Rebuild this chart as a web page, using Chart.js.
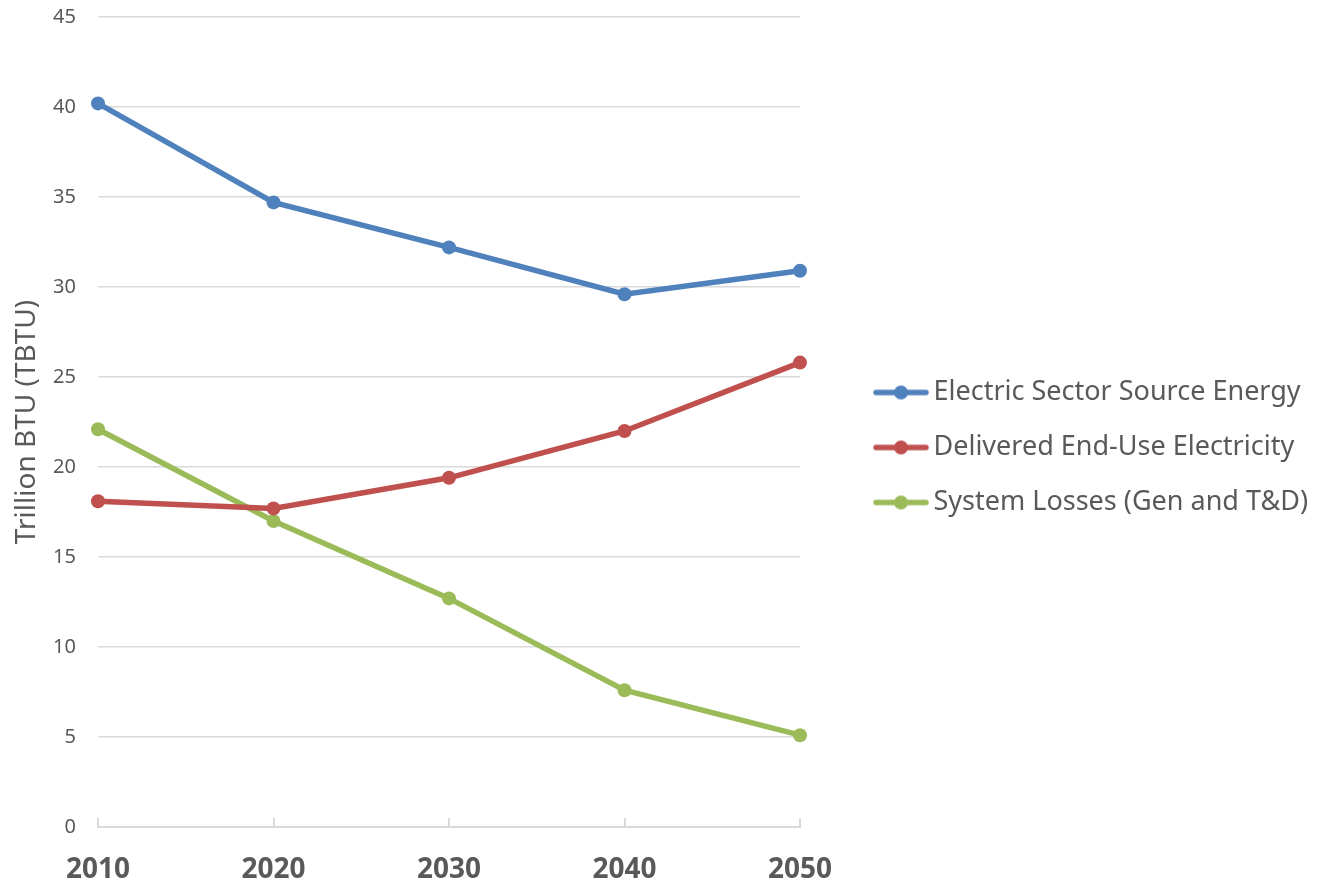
<!DOCTYPE html>
<html>
<head>
<meta charset="utf-8">
<script src="https://cdn.jsdelivr.net/npm/chart.js@4"></script>
<style>
  html, body { margin: 0; padding: 0; background: #fff; }
  #wrap { width: 1319px; height: 884px; }
</style>
</head>
<body>
<div id="wrap"><canvas id="energyChart" width="1319" height="884"></canvas></div>
<script>
const years = ['2010', '2020', '2030', '2040', '2050'];
const sourceEnergy = [40.2, 34.7, 32.2, 29.6, 30.9];
const deliveredElectricity = [18.1, 17.7, 19.4, 22.0, 25.8];
const systemLosses = [22.1, 17.0, 12.7, 7.6, 5.1];
const yTicks = [0, 5, 10, 15, 20, 25, 30, 35, 40, 45];

const BLUE = '#4F81BD';
const RED = '#C0504D';
const GREEN = '#9BBB59';
const TEXT = '#595959';
const FONT = '"Noto Sans", "Open Sans", sans-serif';
const LEGEND_PAD = 28;

// little line-with-dot swatch for the legend
function swatch(color) {
    const c = document.createElement('canvas');
    c.width = 56;
    c.height = 16;
    const g = c.getContext('2d');
    g.strokeStyle = color;
    g.lineWidth = 5.5;
    g.lineCap = 'round';
    g.beginPath();
    g.moveTo(3, 8);
    g.lineTo(53, 8);
    g.stroke();
    g.fillStyle = color;
    g.beginPath();
    g.arc(28, 8, 7, 0, Math.PI * 2);
    g.fill();
    return c;
}

function series(label, data, color) {
    return {
        label: label,
        data: data,
        borderColor: color,
        backgroundColor: color,
        borderWidth: 5.5,
        pointRadius: 7,
        pointBorderWidth: 0,
        pointBackgroundColor: color,
        tension: 0,
        legendSwatch: swatch(color)
    };
}

// the legend takes no room in the layout; park it to the right of the plot
const legendPlacer = {
    id: 'legendPlacer',
    afterLayout(chart) {
        const lg = chart.legend;
        const h = lg.bottom - lg.top;
        lg.left = 882 - LEGEND_PAD;
        lg.right = 1319;
        lg.top -= 3;
        lg.bottom = lg.top + h;
    }
};

const ctx = document.getElementById('energyChart').getContext('2d');
const chart = new Chart(ctx, {
    type: 'line',
    data: {
        labels: years,
        datasets: [
            series('Electric Sector Source Energy', sourceEnergy, BLUE),
            series('Delivered End-Use Electricity', deliveredElectricity, RED),
            series('System Losses (Gen and T&D)', systemLosses, GREEN)
        ]
    },
    options: {
        responsive: false,
        animation: false,
        layout: { padding: { top: 17, left: 0, right: 518, bottom: 0 } },
        plugins: {
            tooltip: { enabled: false },
            legend: {
                position: 'right',
                maxWidth: 1,
                labels: {
                    usePointStyle: true,
                    pointStyleWidth: 38,
                    padding: LEGEND_PAD,
                    color: TEXT,
                    font: { family: FONT, size: 27 },
                    generateLabels(ch) {
                        const items = Chart.defaults.plugins.legend.labels.generateLabels(ch);
                        items.forEach(it => {
                            it.pointStyle = ch.data.datasets[it.datasetIndex].legendSwatch;
                        });
                        return items;
                    }
                }
            }
        },
        scales: {
            x: {
                grid: {
                    display: true,
                    drawOnChartArea: false,
                    tickLength: -9,
                    color: '#d9d9d9',
                    lineWidth: 2
                },
                border: { display: true, color: '#d9d9d9', width: 2 },
                ticks: {
                    color: TEXT,
                    padding: 35,
                    maxRotation: 0,
                    font: { family: FONT, size: 28, weight: 'bold' }
                },
                afterFit(scale) { scale.height = 57; }
            },
            y: {
                min: 0,
                max: 45,
                afterBuildTicks(scale) {
                    scale.ticks = yTicks.map(v => ({ value: v }));
                },
                grid: { color: '#d9d9d9', lineWidth: 1.5, drawTicks: false },
                border: { display: false },
                ticks: {
                    color: TEXT,
                    padding: 22,
                    font: { family: FONT, size: 20 }
                },
                title: {
                    display: true,
                    text: 'Trillion BTU (TBTU)',
                    color: TEXT,
                    padding: { top: 10, bottom: 0 },
                    font: { family: FONT, size: 28 }
                },
                afterFit(scale) {
                    scale.width = 98;
                    scale.paddingTop = 0;
                }
            }
        }
    },
    plugins: [legendPlacer]
});
</script>
</body>
</html>
